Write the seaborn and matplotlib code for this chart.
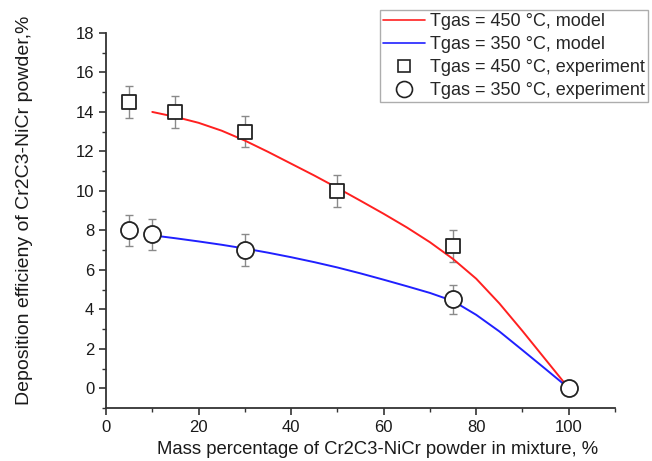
import matplotlib
matplotlib.use("Agg")
import matplotlib.pyplot as plt
from matplotlib.ticker import MultipleLocator
from matplotlib.lines import Line2D
import numpy as np
import pandas as pd
import seaborn as sns

# Model curves (deposition efficiency vs. mass fraction)
model_x = [10, 15, 20, 25, 30, 35, 40, 45, 50, 55, 60, 65, 70, 75, 80, 85, 90, 95, 100]
model_450 = [14.0, 13.75, 13.45, 13.05, 12.55, 11.98, 11.38, 10.78, 10.15, 9.5, 8.84,
             8.15, 7.4, 6.55, 5.55, 4.3, 2.9, 1.45, 0.0]
model_350 = [7.75, 7.6, 7.44, 7.27, 7.08, 6.87, 6.64, 6.39, 6.12, 5.82, 5.5,
             5.17, 4.83, 4.42, 3.72, 2.88, 1.93, 0.97, 0.0]

# Experimental points with error bars
exp450_x = [5, 15, 30, 50, 75]
exp450_y = [14.5, 14.0, 13.0, 10.0, 7.2]
exp450_err = [0.8, 0.8, 0.8, 0.8, 0.8]

exp350_x = [5, 10, 30, 75, 100]
exp350_y = [8.0, 7.8, 7.0, 4.5, 0.0]
exp350_err = [0.8, 0.8, 0.8, 0.75, 0.0]

labels = ["Tgas = 450 °C, model", "Tgas = 350 °C, model",
          "Tgas = 450 °C, experiment", "Tgas = 350 °C, experiment"]

sns.set_style("ticks")
plt.rcParams["font.family"] = ["Liberation Sans", "DejaVu Sans"]

fig = plt.figure(figsize=(6.52, 4.61), dpi=100)
ax = fig.add_axes([0.1626, 0.115, 0.7807, 0.8134])

models = pd.DataFrame({"x": model_x + model_x,
                       "y": model_450 + model_350,
                       "series": [labels[0]] * len(model_x) + [labels[1]] * len(model_x)})
sns.lineplot(data=models, x="x", y="y", hue="series",
             palette=["#ff2020", "#2020ff"], linewidth=1.4, ax=ax, legend=False, zorder=2)

ax.errorbar(exp450_x, exp450_y, yerr=exp450_err, fmt="none", ecolor="#8a8a8a",
            elinewidth=1.0, capsize=3.0, capthick=1.0, zorder=1)
ax.errorbar(exp350_x, exp350_y, yerr=exp350_err, fmt="none", ecolor="#8a8a8a",
            elinewidth=1.0, capsize=3.0, capthick=1.0, zorder=1)

sns.scatterplot(x=exp450_x, y=exp450_y, marker="s", s=92, facecolor="white",
                edgecolor="#222222", linewidth=1.3, ax=ax, zorder=3)
sns.scatterplot(x=exp350_x, y=exp350_y, marker="o", s=150, facecolor="white",
                edgecolor="#222222", linewidth=1.3, ax=ax, zorder=3)

ax.set_xlim(0, 110)
ax.set_ylim(-1, 18)
ax.set_xticks([0, 20, 40, 60, 80, 100])
ax.xaxis.set_minor_locator(MultipleLocator(10))
ax.set_yticks(np.arange(0, 19, 2))
ax.set_yticks(np.arange(-1, 18, 2), minor=True)

for side in ["top", "right"]:
    ax.spines[side].set_visible(False)
for side in ["left", "bottom"]:
    ax.spines[side].set_linewidth(1.3)
    ax.spines[side].set_color("#333333")
ax.tick_params(which="major", direction="out", length=5, width=1.2, colors="#333333",
               labelsize=12, labelcolor="#1a1a1a")
ax.tick_params(which="minor", direction="out", length=3, width=1.0, colors="#333333")

ax.set_xlabel("Mass percentage of Cr2C3-NiCr powder in mixture, %", fontsize=13.3,
              color="#1a1a1a")
ax.xaxis.set_label_coords(0.534, -0.088)
ax.set_ylabel("Deposition efficieny of Cr2C3-NiCr powder,%", fontsize=14,
              color="#1a1a1a")
ax.yaxis.set_label_coords(-0.143, 0.528)

handles = [
    Line2D([], [], color="#ff2020", lw=1.2),
    Line2D([], [], color="#2020ff", lw=1.2),
    Line2D([], [], ls="none", marker="s", ms=9, mfc="white", mec="#222222", mew=1.2),
    Line2D([], [], ls="none", marker="o", ms=11.5, mfc="white", mec="#222222", mew=1.2),
]
leg = fig.legend(handles, labels, loc="upper left", bbox_to_anchor=(380 / 652, 1 - 10 / 461),
                 fontsize=13.0, frameon=True, fancybox=False, handlelength=2.3,
                 handletextpad=0.27, labelspacing=0.33, borderpad=0.18, borderaxespad=0)
leg.get_frame().set_edgecolor("#999999")
leg.get_frame().set_linewidth(1.0)

fig.savefig("out.png", dpi=100)
